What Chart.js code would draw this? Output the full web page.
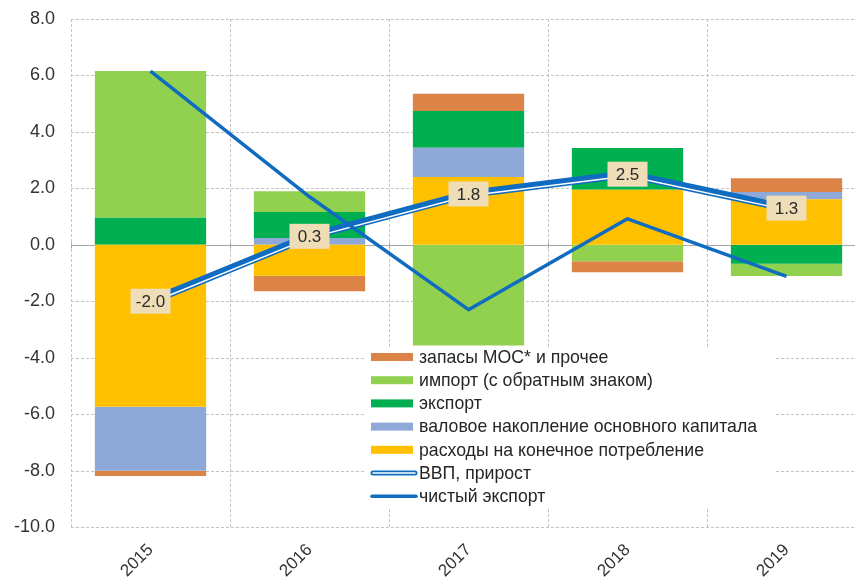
<!DOCTYPE html>
<html><head><meta charset="utf-8">
<script src="https://cdn.jsdelivr.net/npm/chart.js@4.4.0/dist/chart.umd.min.js"></script>
<style>
html,body{margin:0;padding:0;background:#fff;overflow:hidden;width:855px;height:577px}
#wrap{position:relative;width:870px;height:577px}
</style></head>
<body><div id="wrap"><canvas id="c" width="870" height="577"></canvas></div>
<script>
const years = ['2015', '2016', '2017', '2018', '2019'];
const consumption = [-5.74, -1.10, 2.40, 1.95, 1.61];
const fixedCapital = [-2.27, 0.24, 1.04, 0.00, 0.26];
const exportsC = [0.96, 0.92, 1.30, 1.48, -0.67];
const importsC = [5.20, 0.74, -3.57, -0.58, -0.44];
const inventories = [-0.18, -0.55, 0.61, -0.39, 0.49];
const gdpGrowth = [-2.0, 0.3, 1.8, 2.5, 1.3];
const netExports = [6.15, 1.70, -2.30, 0.92, -1.12];
const yMin = -10, yMax = 8, yStep = 2;

const FONT = '"Liberation Sans", Arial, Helvetica, sans-serif';
const BLUE = '#0F6CC0';
const GRID = '#C4C4C4';

const datasets = [
  {key:'cons', type:'bar', label:'расходы на конечное потребление', data:consumption, backgroundColor:'#FFC000', order:2, stack:'bars'},
  {key:'gfcf', type:'bar', label:'валовое накопление основного капитала', data:fixedCapital, backgroundColor:'#8EA9D8', order:2, stack:'bars'},
  {key:'exp', type:'bar', label:'экспорт', data:exportsC, backgroundColor:'#00B050', order:2, stack:'bars'},
  {key:'imp', type:'bar', label:'импорт (с обратным знаком)', data:importsC, backgroundColor:'#92D050', order:2, stack:'bars'},
  {key:'inv', type:'bar', label:'запасы МОС* и прочее', data:inventories, backgroundColor:'#DC8448', order:2, stack:'bars'},
  {key:'gdp', type:'line', label:'ВВП, прирост', data:gdpGrowth, borderColor:BLUE, backgroundColor:BLUE, borderWidth:8, pointRadius:0, tension:0, order:1, stack:'gdp', borderJoinStyle:'round'},
  {key:'nx', type:'line', label:'чистый экспорт', data:netExports, borderColor:BLUE, backgroundColor:BLUE, borderWidth:3.5, pointRadius:0, tension:0, order:0, stack:'nx', borderJoinStyle:'round'}
];
const legendOrder = ['inv','imp','exp','gfcf','cons','gdp','nx'];

const overlay = {
  id:'overlay',
  beforeDatasetsDraw(chart){
    const {ctx, chartArea:a, scales:{x, y}} = chart;
    ctx.save();
    // dashed grid
    ctx.strokeStyle = GRID; ctx.lineWidth = 1; ctx.setLineDash([3,2]);
    ctx.beginPath();
    y.ticks.forEach(t => {
      if (t.value === 0) return;
      const py = Math.round(y.getPixelForValue(t.value)) + 0.5;
      ctx.moveTo(a.left, py); ctx.lineTo(a.right, py);
    });
    const n = years.length;
    for (let i = 0; i <= n; i++) {
      let px;
      if (i === 0) px = a.left; else if (i === n) px = a.right;
      else px = (x.getPixelForValue(i - 1) + x.getPixelForValue(i)) / 2;
      px = Math.round(px) + 0.5;
      ctx.moveTo(px, a.top); ctx.lineTo(px, a.bottom);
    }
    ctx.stroke();
    ctx.setLineDash([]);
    // zero line
    const y0 = Math.round(y.getPixelForValue(0)) + 0.5;
    ctx.strokeStyle = '#A6A6A6';
    ctx.beginPath(); ctx.moveTo(a.left, y0); ctx.lineTo(a.right, y0);
    for (let i = 0; i <= n; i++) {
      let px;
      if (i === 0) px = a.left; else if (i === n) px = a.right;
      else px = (x.getPixelForValue(i - 1) + x.getPixelForValue(i)) / 2;
      px = Math.round(px) + 0.5;
      ctx.moveTo(px, y0 - 3); ctx.lineTo(px, y0 + 3);
    }
    ctx.stroke(); ctx.restore();
  },
  afterDatasetDraw(chart, args){
    const ds = chart.data.datasets[args.index];
    if (ds.key !== 'gdp') return;
    const ctx = chart.ctx; const pts = args.meta.data;
    ctx.save(); ctx.strokeStyle = '#fff'; ctx.lineWidth = 1.5; ctx.lineJoin = 'round';
    ctx.beginPath();
    pts.forEach((p, i) => { if (i) ctx.lineTo(p.x, p.y + 1.8); else ctx.moveTo(p.x, p.y + 1.8); });
    ctx.stroke(); ctx.restore();
  },
  afterDatasetsDraw(chart){
    const ctx = chart.ctx;
    const idx = chart.data.datasets.findIndex(d => d.key === 'gdp');
    const meta = chart.getDatasetMeta(idx);
    ctx.save();
    ctx.font = '17px ' + FONT; ctx.textAlign = 'center'; ctx.textBaseline = 'middle';
    meta.data.forEach((p, i) => {
      const t = gdpGrowth[i].toFixed(1);
      const w = 40, h = 25;
      ctx.fillStyle = '#EEDDB6';
      ctx.fillRect(p.x - w/2, p.y - h/2, w, h);
      ctx.fillStyle = '#2A2A2A';
      ctx.fillText(t, p.x, p.y + 1);
    });
    // legend
    const lx = 371, ly = 357, step = 23.2;
    ctx.fillStyle = '#fff';
    ctx.fillRect(364, 347, 412, 160);
    ctx.font = '17.7px ' + FONT; ctx.textAlign = 'left'; ctx.textBaseline = 'middle';
    legendOrder.forEach((k, i) => {
      const ds = chart.data.datasets.find(d => d.key === k);
      const cy = ly + i * step;
      if (ds.type === 'bar') {
        ctx.fillStyle = ds.backgroundColor;
        ctx.fillRect(lx, cy - 4, 42, 8);
      } else if (k === 'gdp') {
        ctx.lineCap = 'round';
        ctx.strokeStyle = BLUE; ctx.lineWidth = 5;
        ctx.beginPath(); ctx.moveTo(lx + 2, cy); ctx.lineTo(lx + 44, cy); ctx.stroke();
        ctx.strokeStyle = '#fff'; ctx.lineWidth = 1.5;
        ctx.beginPath(); ctx.moveTo(lx + 2, cy); ctx.lineTo(lx + 44, cy); ctx.stroke();
      } else {
        ctx.lineCap = 'round';
        ctx.strokeStyle = BLUE; ctx.lineWidth = 3.5;
        ctx.beginPath(); ctx.moveTo(lx + 1, cy); ctx.lineTo(lx + 45, cy); ctx.stroke();
      }
      ctx.fillStyle = '#262626';
      ctx.fillText(ds.label, 419, cy + 1);
    });
    ctx.restore();
  }
};

new Chart(document.getElementById('c'), {
  data: {labels: years, datasets},
  options: {
    responsive:false, animation:false, devicePixelRatio:1,
    layout:{padding:{top:19, right:4, left:0, bottom:0}},
    plugins:{legend:{display:false}, tooltip:{enabled:false}},
    datasets:{bar:{categoryPercentage:0.7, barPercentage:1, borderWidth:0}},
    scales:{
      x:{
        stacked:true,
        grid:{display:false, offset:true, drawTicks:false},
        border:{display:false},
        ticks:{minRotation:45, maxRotation:45, padding:13, color:'#333333', font:{family:FONT, size:17}},
        afterFit(s){ s.height = 50; s.paddingLeft = 0; s.paddingRight = 0; }
      },
      y:{
        stacked:true, min:yMin, max:yMax,
        grid:{display:false, drawTicks:false},
        border:{display:false},
        ticks:{stepSize:yStep, padding:16, color:'#333333', font:{family:FONT, size:18}, callback:(v)=>Number(v).toFixed(1)},
        afterFit(s){ s.width = 71; s.paddingTop = 0; s.paddingBottom = 0; }
      }
    }
  },
  plugins:[overlay]
});
</script>
</body></html>
